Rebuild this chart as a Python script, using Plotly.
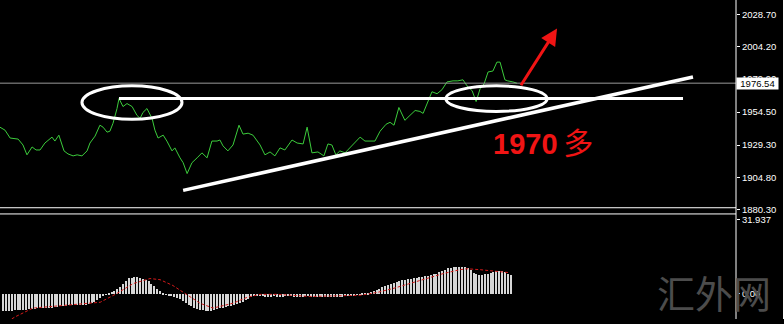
import plotly.graph_objects as go

W, H = 784, 324

# ---- data ----
price_idx = [-1.2, 0.6, 2.4, 4.1, 5.2, 6.9, 8.3, 10.1, 11.5, 12.9,
             14.6, 17.1, 18.1, 19.5, 21.3, 22.7, 24.5, 25.9, 27.6, 29.4,
             30.4, 32.2, 33.9, 35.0, 36.4, 37.4, 38.5, 39.9, 40.6, 42.0,
             43.4, 45.2, 46.9, 48.0, 49.0, 50.4, 52.2, 53.2, 54.3, 56.1,
             57.4, 59.2, 60.2, 62.0, 63.1, 64.5, 66.2, 68.0, 69.7, 71.5,
             73.2, 75.0, 76.0, 77.1, 78.8, 80.6, 82.7, 84.1, 85.9, 87.6,
             90.1, 91.8, 93.6, 95.3, 97.1, 98.8, 101.3, 103.1, 105.2, 106.6,
             108.3, 110.4, 112.5, 113.9, 115.3, 116.7, 118.1, 119.9, 121.6, 125.2,
             126.9, 130.4, 132.2, 134.3, 135.7, 137.1, 138.8, 140.9, 142.7, 144.5,
             146.2, 147.3, 150.4, 152.2, 153.9, 155.7, 157.8, 159.5, 161.3, 162.7,
             164.5, 165.9, 167.3, 168.7, 170.1, 171.8, 173.2, 174.3, 176.0, 177.0,
             178.8, 180.2]
price_val = [1943.0, 1940.7, 1934.7, 1933.9, 1933.9, 1929.4, 1921.9, 1927.9, 1925.6, 1925.6,
             1930.9, 1935.4, 1932.4, 1936.9, 1924.9, 1922.6, 1921.1, 1921.9, 1921.1, 1924.9,
             1930.9, 1936.2, 1944.5, 1943.0, 1939.2, 1939.9, 1946.0, 1957.2, 1964.8, 1958.7,
             1961.0, 1958.7, 1952.0, 1949.7, 1954.2, 1957.2, 1949.7, 1940.7, 1934.7, 1936.9,
             1932.4, 1924.9, 1927.2, 1919.6, 1915.9, 1907.6, 1915.9, 1919.6, 1923.4, 1919.6,
             1932.4, 1932.4, 1933.2, 1928.7, 1924.9, 1929.4, 1944.5, 1937.7, 1938.4, 1936.9,
             1929.4, 1921.9, 1924.1, 1921.1, 1927.2, 1925.6, 1933.2, 1930.9, 1930.2, 1943.0,
             1923.4, 1924.1, 1921.1, 1930.2, 1929.4, 1921.9, 1924.9, 1923.4, 1927.2, 1935.4,
             1932.4, 1932.4, 1939.9, 1945.2, 1946.7, 1944.5, 1958.0, 1948.2, 1952.0, 1955.7,
             1955.0, 1953.5, 1970.0, 1968.5, 1971.5, 1977.5, 1978.3, 1978.3, 1979.1, 1974.5,
             1970.8, 1962.5, 1972.3, 1976.0, 1985.1, 1985.8, 1992.6, 1992.6, 1979.1, 1978.3,
             1977.5, 1976.54]

hist_val = [-7.0, -7.1, -7.1, -7.0, -6.9, -6.9, -6.8, -6.7, -6.6, -6.5,
            -6.3, -6.2, -6.1, -6.1, -6.0, -6.0, -5.8, -5.7, -5.6, -5.4,
            -5.2, -5.0, -4.9, -4.8, -4.8, -4.7, -4.7, -4.6, -4.6, -4.5,
            -4.3, -3.9, -3.4, -2.6, -1.8, -0.9, -0.3, 0.4, 1.0, 1.6,
            2.4, 3.2, 4.5, 5.8, 6.8, 7.1, 7.2, 7.2, 7.0, 6.6,
            6.1, 5.5, 4.6, 3.4, 2.3, 1.3, 0.4, -0.3, -0.6, -0.9,
            -1.2, -1.6, -2.2, -2.9, -3.7, -4.5, -5.2, -5.8, -6.3, -6.6,
            -6.9, -7.0, -7.1, -7.0, -6.8, -6.5, -6.1, -5.8, -5.5, -5.2,
            -4.9, -4.6, -4.2, -3.8, -3.2, -2.6, -1.9, -1.3, -0.9, -0.7,
            -0.6, -0.8, -1.0, -1.2, -1.1, -0.9, -1.0, -1.2, -1.1, -0.8,
            -0.7, -0.9, -1.1, -1.3, -1.2, -1.0, -0.6, -0.9, -1.2, -1.3,
            -1.2, -1.0, -1.1, -1.3, -1.2, -1.0, -1.1, -1.3, -1.2, -1.0,
            -0.9, -0.8, -0.6, -0.4, -0.2, 0.1, 0.3, 0.5, 0.7, 0.9,
            1.2, 1.7, 2.2, 2.9, 3.5, 3.9, 4.3, 4.8, 5.3, 5.7,
            6.0, 6.2, 6.5, 6.7, 6.9, 7.1, 7.2, 7.4, 7.7, 7.9,
            8.2, 8.5, 8.8, 9.6, 10.1, 10.6, 11.1, 11.3, 11.5, 11.6,
            11.8, 11.9, 11.7, 11.2, 10.3, 9.2, 8.5, 8.2, 8.3, 8.5,
            8.7, 9.1, 9.6, 9.8, 9.9, 9.8, 9.6, 8.9, 8.2]

sig_idx = [0, 4.1, 10.4, 22.4, 34.0, 39.9, 45.5, 51.5, 55.0, 59.5,
           64.5, 69.0, 73.6, 80.6, 85.5, 90.1, 96.0, 107.6, 125.2, 131.1,
           136.7, 142.7, 148.7, 154.3, 160.2, 162.7, 167.3, 171.8, 177.8]
sig_val = [-13.0, -9.9, -6.1, -4.9, -3.6, 0.2, 4.4, 6.6, 6.1, 3.6,
           -0.6, -4.0, -6.1, -4.0, -1.5, -0.2, -0.2, -1.1, -0.6, 0.6,
           2.3, 4.4, 6.6, 8.7, 10.4, 10.8, 10.4, 9.9, 9.1]

price_ticks = [2028.70, 2004.20, 1979.90, 1954.50, 1929.30, 1904.80, 1880.30]
price_tick_text = ["2028.70", "2004.20", "1979.90", "1954.50", "1929.30", "1904.80", "1880.30"]
last_price = 1976.54
macd_ticks = [0.0, 31.937]
macd_tick_text = ["0.00", "31.937"]
note_text = "<b>1970</b>\u2009<span style='font-size:30px'>多</span>"
watermark = "汇外网"

# ---- layout geometry ----
AX = 736 / W           # right axis position (paper)
def py(px):            # pixel row -> paper y
    return 1 - px / H

fig = go.Figure()
fig.add_trace(go.Scatter(x=price_idx, y=price_val, mode="lines",
                         line=dict(color="#3ccc3c", width=1),
                         xaxis="x", yaxis="y", hoverinfo="skip"))
fig.add_trace(go.Bar(x=list(range(len(hist_val))), y=hist_val, width=0.38,
                     marker=dict(color="#d6d6d6", line=dict(width=0)),
                     xaxis="x2", yaxis="y2", hoverinfo="skip"))
fig.add_trace(go.Scatter(x=sig_idx, y=sig_val, mode="lines",
                         line=dict(color="#d41a1a", width=1, dash="3px,2px"),
                         xaxis="x2", yaxis="y2", hoverinfo="skip"))

tickfont = dict(family="Liberation Sans, Arial", size=9.5, color="white")
xr = [-1.158, 257.09]

shapes = [
    dict(type="line", xref="paper", yref="y", x0=0, x1=AX, y0=last_price, y1=last_price,
         line=dict(color="#9a9a9a", width=1)),
    dict(type="line", xref="x", yref="y", x0=40.6, x1=238.5, y0=1964.8, y1=1964.8,
         line=dict(color="white", width=3)),
    dict(type="circle", xref="x", yref="y", x0=27.6, x1=62.7, y0=1949.0, y1=1974.5,
         line=dict(color="white", width=3)),
    dict(type="circle", xref="x", yref="y", x0=155.3, x1=190.8, y0=1955.0, y1=1974.5,
         line=dict(color="white", width=3)),
    dict(type="line", xref="x", yref="y", x0=63.1, x1=242.0, y0=1894.8, y1=1981.3,
         line=dict(color="white", width=3.5)),
    dict(type="line", xref="paper", yref="paper", x0=0, x1=AX, y0=py(211), y1=py(211),
         line=dict(color="white", width=1)),
    dict(type="line", xref="paper", yref="paper", x0=0, x1=AX, y0=py(217.3), y1=py(217.3),
         line=dict(color="white", width=1)),
    dict(type="line", xref="paper", yref="paper", x0=AX, x1=AX, y0=0, y1=1,
         line=dict(color="white", width=1)),
    dict(type="line", xref="paper", yref="paper", x0=783.5 / W, x1=783.5 / W, y0=0, y1=1,
         line=dict(color="white", width=1)),
]

annotations = [
    dict(xref="paper", yref="paper", x=714 / W, y=py(296), text=watermark, showarrow=False,
         font=dict(family="Noto Sans CJK SC", size=38, color="#4c4c4c"),
         xanchor="center", yanchor="middle"),
    dict(xref="paper", yref="y", x=AX, y=last_price, text=f"{last_price:.2f}", showarrow=False,
         xanchor="left", yanchor="middle", bgcolor="white", width=41, height=11, borderpad=0,
         font=dict(family="Liberation Sans, Arial", size=9.5, color="black")),
    dict(xref="x", yref="y", x=171.2, y=1930.2, text=note_text, showarrow=False,
         xanchor="left", yanchor="middle",
         font=dict(family="Liberation Sans, Noto Sans CJK SC", size=29, color="#f01414")),
    dict(xref="x", yref="y", x=194.3, y=2018.2, ax=181.3, ay=1973.8, axref="x", ayref="y",
         text="", showarrow=True, arrowhead=2, arrowsize=1.1, arrowwidth=3,
         arrowcolor="#f01414"),
]

fig.update_layout(
    width=W, height=H, margin=dict(l=0, r=0, t=0, b=0),
    paper_bgcolor="black", plot_bgcolor="black", showlegend=False, bargap=0,
    xaxis=dict(domain=[0, AX], range=xr, visible=False, anchor="y"),
    xaxis2=dict(domain=[0, AX], range=xr, visible=False, anchor="y2"),
    yaxis=dict(domain=[py(213), 1], range=[1880.05, 2039.96], side="right", anchor="x",
               tickvals=price_ticks, ticktext=price_tick_text, ticks="outside", ticklen=3,
               tickcolor="white", tickfont=tickfont, showgrid=False, zeroline=False,
               showline=False),
    yaxis2=dict(domain=[0, py(217)], range=[-10.79, 34.48], side="right", anchor="x2",
                tickvals=macd_ticks, ticktext=macd_tick_text, ticks="outside", ticklen=3,
                tickcolor="white", tickfont=tickfont, showgrid=False, zeroline=False,
                showline=False),
    shapes=shapes, annotations=annotations,
)

page_css = ("var s=document.createElement('style');"
            "s.textContent='html,body{margin:0;padding:0;background:#000;overflow:hidden;}"
            "body>div{line-height:0;font-size:0;}';"
            "document.head.appendChild(s);")
fig.write_html("out.html", post_script=page_css, config={"displayModeBar": False})
